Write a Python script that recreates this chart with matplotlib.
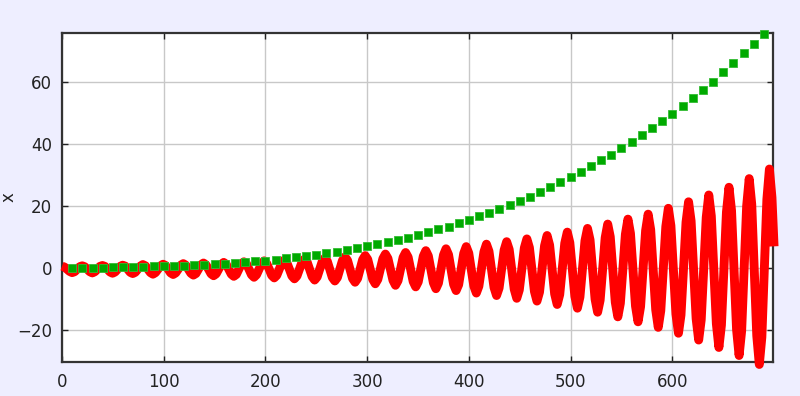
import numpy as np
import matplotlib
matplotlib.use("Agg")
import matplotlib.pyplot as plt

BG = "#EEEEFF"; RED = "#FF0000"; GREEN = "#00AA00"; INK = "#222222"; GRID = "#C8C8C8"

# green squares, every 10 units
green_x = np.arange(10, 700, 10)
green_y = [0.0, 0.1, 0.1, 0.1, 0.2, 0.2, 0.3, 0.4, 0.5, 0.6,
           0.7, 0.8, 0.9, 1.1, 1.2, 1.4, 1.7, 1.9, 2.2, 2.4,
           2.7, 3.1, 3.5, 3.9, 4.3, 4.8, 5.3, 5.8, 6.4, 7.0,
           7.6, 8.3, 9.1, 9.8, 10.7, 11.5, 12.5, 13.4, 14.5, 15.5,
           16.7, 17.8, 19.1, 20.4, 21.7, 23.1, 24.6, 26.1, 27.7, 29.4,
           31.1, 32.9, 34.8, 36.7, 38.8, 40.8, 43.0, 45.2, 47.5, 49.9,
           52.4, 55.0, 57.6, 60.3, 63.5, 66.4, 69.4, 72.5, 75.7]

# red oscillation, 8 samples per cycle (one row per cycle)
red_y = [
    0.6, 0.3, -0.4, -1.1, -1.5, -1.2, -0.4, 0.4,
    0.7, 0.4, -0.4, -1.2, -1.6, -1.2, -0.4, 0.5,
    0.8, 0.5, -0.4, -1.3, -1.7, -1.3, -0.4, 0.5,
    0.9, 0.6, -0.4, -1.4, -1.8, -1.4, -0.4, 0.6,
    1.1, 0.7, -0.4, -1.5, -2.0, -1.5, -0.4, 0.7,
    1.2, 0.8, -0.4, -1.6, -2.1, -1.6, -0.4, 0.9,
    1.4, 0.9, -0.4, -1.7, -2.3, -1.8, -0.4, 1.0,
    1.6, 1.0, -0.4, -1.9, -2.5, -1.9, -0.4, 1.1,
    1.8, 1.2, -0.4, -2.0, -2.7, -2.1, -0.4, 1.3,
    2.0, 1.4, -0.4, -2.2, -3.0, -2.2, -0.4, 1.5,
    2.3, 1.5, -0.4, -2.4, -3.2, -2.4, -0.4, 1.7,
    2.6, 1.7, -0.4, -2.6, -3.5, -2.6, -0.4, 1.9,
    2.9, 2.0, -0.4, -2.8, -3.9, -2.9, -0.4, 2.1,
    3.2, 2.2, -0.4, -3.1, -4.2, -3.1, -0.4, 2.4,
    3.6, 2.5, -0.4, -3.4, -4.6, -3.4, -0.4, 2.7,
    4.0, 2.8, -0.4, -3.7, -5.1, -3.7, -0.4, 3.0,
    4.5, 3.1, -0.4, -4.0, -5.6, -4.1, -0.4, 3.4,
    5.0, 3.5, -0.4, -4.4, -6.1, -4.5, -0.4, 3.8,
    5.6, 3.9, -0.4, -4.8, -6.7, -4.9, -0.4, 4.2,
    6.2, 4.3, -0.4, -5.3, -7.3, -5.4, -0.4, 4.7,
    6.9, 4.8, -0.4, -5.8, -8.1, -5.9, -0.4, 5.2,
    7.7, 5.4, -0.4, -6.3, -8.9, -6.5, -0.4, 5.8,
    8.5, 6.0, -0.4, -6.9, -9.8, -7.1, -0.4, 6.5,
    9.4, 6.6, -0.4, -7.6, -10.7, -7.8, -0.4, 7.2,
    10.5, 7.4, -0.4, -8.4, -11.8, -8.6, -0.4, 8.0,
    11.6, 8.2, -0.4, -9.2, -13.0, -9.4, -0.4, 8.8,
    12.8, 9.1, -0.4, -10.1, -14.3, -10.4, -0.4, 9.8,
    14.2, 10.1, -0.4, -11.1, -15.8, -11.4, -0.4, 10.9,
    15.8, 11.2, -0.4, -12.3, -17.4, -12.5, -0.4, 12.1,
    17.4, 12.4, -0.4, -13.5, -19.2, -13.8, -0.4, 13.4,
    19.3, 13.7, -0.4, -14.9, -21.1, -15.2, -0.4, 14.8,
    21.4, 15.2, -0.4, -16.4, -23.3, -16.8, -0.4, 16.4,
    23.6, 16.8, -0.4, -18.0, -25.7, -18.5, -0.4, 18.1,
    26.1, 18.6, -0.4, -19.9, -28.3, -20.4, -0.4, 20.1,
    28.9, 20.6, -0.4, -21.9, -31.2, -22.4, -0.4, 22.2,
    32.0, 22.8, 7.0,
]
red_x = np.append(np.arange(len(red_y) - 1) * 2.4837, 700.0)

x_ticks = [0, 100, 200, 300, 400, 500, 600]
y_ticks = [-20, 0, 20, 40, 60]

plt.rcParams["font.family"] = "DejaVu Sans"
fig = plt.figure(figsize=(8, 3.96), dpi=100)
fig.patch.set_facecolor(BG)
ax = fig.add_axes([0.0775, 0.0859, 0.8888, 0.8308])
ax.set_facecolor("white")

ax.plot(red_x, red_y, color=RED, lw=6.4, solid_joinstyle="round", solid_capstyle="butt",
        clip_on=False, zorder=3)
ax.plot(green_x, green_y, ls="none", marker="s", ms=5.3, mfc=GREEN, mec="#33BB33", mew=0.6,
        zorder=4, clip_on=False)

ax.set_xlim(0, 699)
ax.set_ylim(-30.4, 76.0)
ax.set_xticks(x_ticks)
ax.set_yticks(y_ticks)
ax.grid(True, color=GRID, lw=1.0, zorder=0)
ax.set_axisbelow(True)
ax.tick_params(direction="in", length=4, width=1, colors=INK, labelsize=12,
               top=True, right=True)
ax.tick_params(axis="x", pad=8)
ax.tick_params(axis="y", pad=7)
for s in ax.spines.values():
    s.set_color("#333333"); s.set_linewidth(1.6)
ax.set_ylabel("x", fontsize=12, color=INK)
ax.yaxis.set_label_coords(-0.062, 0.5)

fig.savefig("out.png", dpi=100, facecolor=BG)
